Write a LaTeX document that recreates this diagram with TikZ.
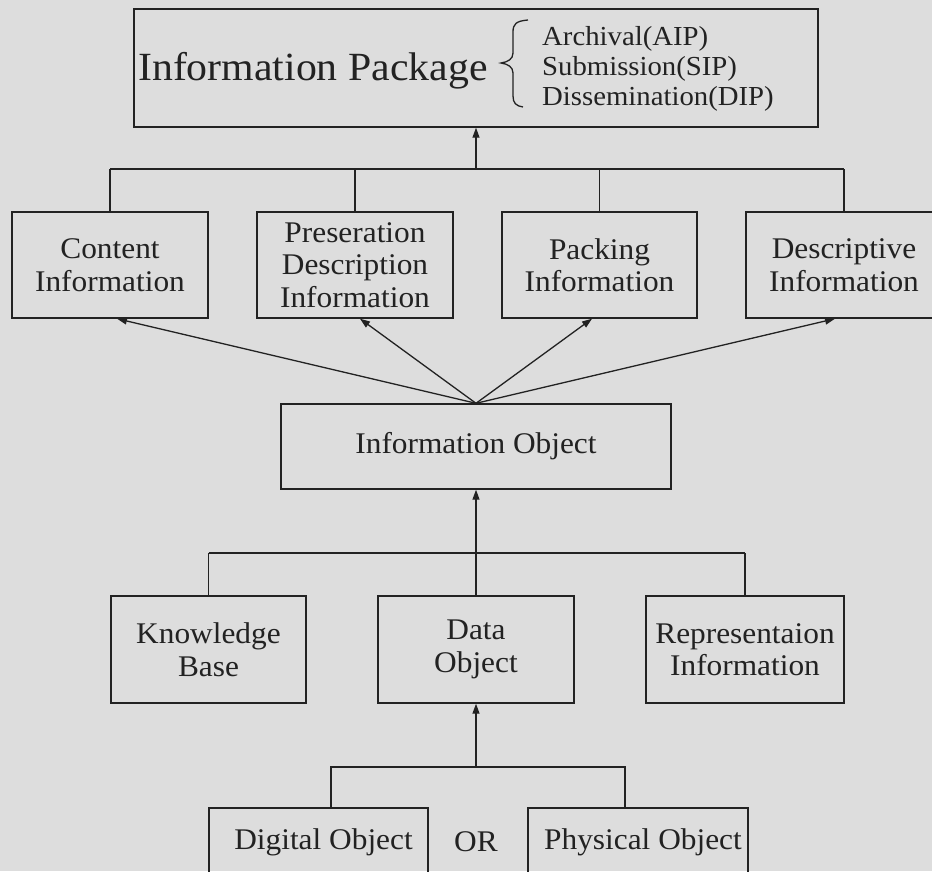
\documentclass[tikz,border=0pt]{standalone}
\usepackage{fontspec}
\setmainfont{Liberation Serif}[FakeStretch=1.045]
\usetikzlibrary{arrows.meta}
\definecolor{paper}{RGB}{221,221,221}
\definecolor{ink}{RGB}{34,34,34}
\begin{document}
\begin{tikzpicture}[x=1pt,y=-1pt,
  box/.style={draw=ink, line width=1.4pt, text=ink, align=center, inner sep=0pt,
              font=\fontsize{30}{32.5}\selectfont},
  wire/.style={draw=ink, line width=1.3pt},
  arr/.style={wire, -{Triangle[length=10pt,width=7pt]}},
  lbl/.style={text=ink, inner sep=0pt, anchor=base west},
]
% page
\useasboundingbox (0,0) rectangle (932,871);
\fill[paper] (0,0) rectangle (932,871);
\clip (0,0) rectangle (932,871);

% information package
\node[box, minimum width=684pt, minimum height=118pt] (pkg) at (476,68) {};
\node[lbl, font=\fontsize{40}{40}\selectfont] (pkgname) at (138,80) {Information Package};
\node[lbl, font=\fontsize{27.5}{30}\selectfont] (aip) at (542,45) {Archival(AIP)};
\node[lbl, font=\fontsize{27.5}{30}\selectfont] (sip) at (542,75) {Submission(SIP)};
\node[lbl, font=\fontsize{27.5}{30}\selectfont] (dip) at (542,105) {Dissemination(DIP)};
\draw[ink, line width=1.3pt] (528,20) .. controls (516,21) and (513,24) .. (513,32)
  -- (513,53) .. controls (513,59) and (508,62) .. (501,63)
  .. controls (508,64) and (513,67) .. (513,73)
  -- (513,96) .. controls (513,103) and (516,106) .. (523,107);

% package components
\node[box, minimum width=196pt, minimum height=106pt] (content) at (110,265) {Content\\Information};
\node[box, minimum width=196pt, minimum height=106pt] (pres) at (355,265) {Preseration\\Description\\Information};
\node[box, minimum width=195pt, minimum height=106pt] (pack) at (599.5,265) {Packing\\Information};
\node[box, minimum width=196pt, minimum height=106pt] (desc) at (844,265) {Descriptive\\Information};

% information object
\node[box, minimum width=390pt, minimum height=85pt] (io) at (476,446.5) {Information Object};

% its parts
\node[box, minimum width=195pt, minimum height=107pt] (kb) at (208.5,649.5) {Knowledge\\Base};
\node[box, minimum width=196pt, minimum height=107pt] (data) at (476,649.5) {Data\\Object};
\node[box, minimum width=198pt, minimum height=107pt] (rep) at (745,649.5) {Representaion\\Information};

% data object kinds
\node[box, minimum width=219pt, minimum height=68pt] (dig) at (318.5,842) {\hspace*{10pt}Digital Object};
\node[box, minimum width=220pt, minimum height=68pt] (phys) at (638,842) {\hspace*{10pt}Physical Object};
\node[text=ink, inner sep=0pt, font=\fontsize{30}{32.5}\selectfont] (or) at (476,842) {OR};

% tree under the package
\coordinate (j1) at (476,169);
\draw[wire] (content.north |- j1) -- (desc.north |- j1);
\foreach \b in {content,pres,pack,desc} \draw[wire] (\b.north) -- (\b.north |- j1);
\draw[arr] (j1) -- (pkg.south -| j1);

% information object feeds each component
\draw[arr] (io.north) -- ([xshift=7pt]content.south);
\draw[arr] (io.north) -- ([xshift=5pt]pres.south);
\draw[arr] (io.north) -- ([xshift=-7.5pt]pack.south);
\draw[arr] (io.north) -- ([xshift=-9pt]desc.south);

% tree under the information object
\coordinate (j2) at (476,553);
\draw[wire] (kb.north |- j2) -- (rep.north |- j2);
\draw[wire] (kb.north) -- (kb.north |- j2);
\draw[wire] (rep.north) -- (rep.north |- j2);
\draw[arr] (data.north) -- (io.south);

% tree under the data object
\coordinate (j3) at (476,767);
\coordinate (dtop) at (331,808);
\coordinate (ptop) at (625,808);
\draw[wire] (dtop) |- (j3) -| (ptop);
\draw[arr] (j3) -- (data.south);
\end{tikzpicture}
\end{document}
